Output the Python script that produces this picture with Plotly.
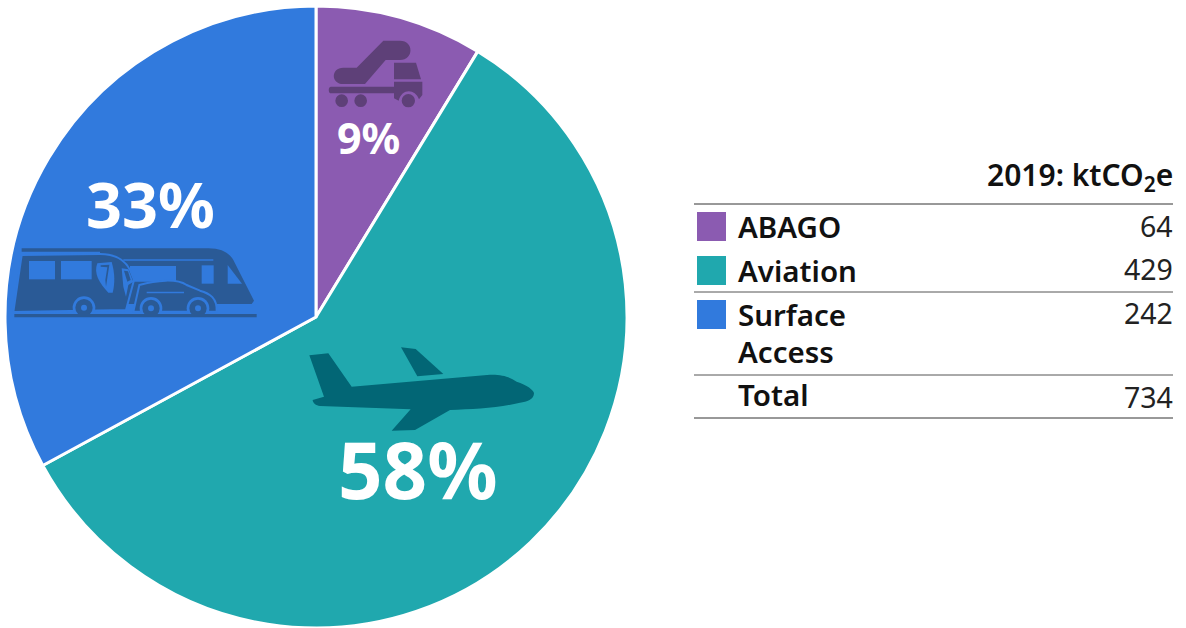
import re
import plotly.graph_objects as go

W, H = 1186, 628
FONT = "Noto Sans"

categories = ["ABAGO", "Aviation", "Surface Access"]
values = [64, 429, 242]
percents = ["9%", "58%", "33%"]
colors = ["#8B5BB1", "#20A8AE", "#317ADD"]
table_labels = ["ABAGO", "Aviation", "Surface", "Access", "Total"]
table_values = ["64", "429", "242", "734"]
table_header = "2019: ktCO<sub>2</sub>e"


def fx(x):
    return x / W


def fy(y):
    return 1 - y / H


def zoompath(d, ox, oy, s=3.0):
    """Convert an icon outline drawn in zoomed px into paper coordinates."""
    toks = re.findall(r"[MLCQZ]|-?\d+\.?\d*", d)
    out, nums = [], []
    for t in toks:
        if t in "MLCQZ":
            out.append(t)
        else:
            nums.append(float(t))
            if len(nums) == 2:
                out.append(f"{fx(ox + nums[0] / s):.5f},{fy(oy + nums[1] / s):.5f}")
                nums = []
    return " ".join(out)


shapes = []


def add_path(d, ox, oy, fill, line=None, lw=0):
    shapes.append(dict(type="path", xref="paper", yref="paper",
                       path=zoompath(d, ox, oy), fillcolor=fill,
                       line=dict(color=line or fill, width=lw)))


def add_circle(cx, cy, r, ox, oy, fill):
    shapes.append(dict(type="circle", xref="paper", yref="paper",
                       x0=fx(ox + (cx - r) / 3), x1=fx(ox + (cx + r) / 3),
                       y0=fy(oy + (cy + r) / 3), y1=fy(oy + (cy - r) / 3),
                       fillcolor=fill, line=dict(width=0)))


def add_rect(x0, y0, x1, y1, ox, oy, fill):
    add_path(f"M{x0},{y0} L{x1},{y0} L{x1},{y1} L{x0},{y1} Z", ox, oy, fill)


# plane icon
PLANE = "#026675"
add_path("M28,46 L85,40 L155,140 L570,104 C610,103 630,112 650,125 C680,135 702,150 702,160 "
         "C702,178 680,186 660,188 C600,203 520,208 450,210 L345,270 L275,272 L332,208 "
         "L60,198 C48,197 38,188 38,180 L72,170 Z", 300, 340, PLANE)
add_path("M303,22 L347,27 L430,102 L352,109 Z", 300, 340, PLANE)

# ground-service vehicle icon
PUR = "#5E4078"
add_path("M70,113 L110,113 L190,32 L240,32 C282,32 282,90 240,90 L197,90 L135,162 L70,162 "
         "C32,162 32,113 70,113 Z", 320, 30, PUR)
add_path("M33,170 L222,170 L222,190 L33,190 C24,190 24,170 33,170 Z", 320, 30, PUR)
add_path("M222,98 L288,98 L303,148 L222,148 Z", 320, 30, PUR)
add_path("M222,155 L307,155 L307,195 L297,208 C285,175 245,175 236,212 L222,205 Z", 320, 30, PUR)
add_circle(65, 212, 19, 320, 30, PUR)
add_circle(122, 212, 19, 320, 30, PUR)
add_circle(265, 212, 20, 320, 30, PUR)

# surface access icon
DK = "#2A5A96"
BL = colors[2]
ox, oy = 0, 230
add_path("M65,55 L625,55 C665,55 688,70 700,90 L762,212 L755,222 L300,222 L300,65 L65,65 Z", ox, oy, DK)
add_path("M370,88 L640,88 L640,92 L370,92 Z", ox, oy, BL)
add_rect(390, 108, 528, 155, ox, oy, BL)
add_rect(605, 106, 641, 161, ox, oy, BL)
add_path("M683,105 L726,161 L683,161 Z", ox, oy, BL)
add_path("M65,75 L300,72 C345,72 375,90 390,120 L402,150 L378,240 L40,246 Z", ox, oy, DK, BL, 2)
add_rect(87, 93, 165, 148, ox, oy, BL)
add_rect(183, 93, 275, 148, ox, oy, BL)
add_path("M292,100 L335,96 C345,130 345,160 338,188 L325,188 C298,160 280,130 292,100 Z", ox, oy, BL)
add_path("M302,106 L328,104 L318,170 L316,150 L322,112 L302,110 Z", ox, oy, DK)
add_path("M365,115 L385,118 L400,155 L385,165 L378,200 L370,170 Z", ox, oy, BL)
add_path("M372,122 L384,124 L392,150 L382,155 Z", ox, oy, DK)
add_path("M418,165 C470,150 530,145 560,165 L600,182 C630,190 652,205 650,245 L400,245 Z", ox, oy, DK, BL, 2)
add_path("M440,185 L552,185 L552,190 L440,190 Z", ox, oy, BL)
for cx, cy in [(252, 233), (453, 235), (594, 235)]:
    add_circle(cx, cy, 34, ox, oy, BL)
    add_circle(cx, cy, 26, ox, oy, DK)
    add_circle(cx, cy, 9, ox, oy, BL)
add_path("M43,252 L770,252 L770,262 L43,262 Z", ox, oy, DK)

# table rules
for y, col in [(204, "#333333"), (292, "#555555"), (375, "#555555"), (418, "#333333")]:
    shapes.append(dict(type="line", xref="paper", yref="paper", x0=fx(694), x1=fx(1173),
                       y0=fy(y), y1=fy(y), line=dict(color=col, width=1)))

# legend swatches
for y, c in zip([212, 256, 300], colors):
    shapes.append(dict(type="rect", xref="paper", yref="paper", x0=fx(697), x1=fx(726),
                       y0=fy(y + 29), y1=fy(y), fillcolor=c, line=dict(width=0)))

annotations = []


def text(x, y, s, size, anchor="left", color="#111111", weight=400):
    annotations.append(dict(xref="paper", yref="paper", x=fx(x), y=fy(y), text=s, showarrow=False,
                            xanchor=anchor, yanchor="middle", align=anchor,
                            font=dict(family=FONT, size=size, color=color, weight=weight)))


text(368, 137, percents[0], 43, "center", "white", 700)
text(418, 469, percents[1], 78, "center", "white", 700)
text(150, 204, percents[2], 63, "center", "white", 700)

text(1175, 176, table_header, 30, "right", "#111111", 600)
for (y, lbl) in zip([226, 270, 314, 351, 394], table_labels):
    text(736, y, lbl, 29.5, "left", "#111111", 600)
for (y, val) in zip([226, 269, 313, 397], table_values):
    text(1175, y, val, 28.5, "right", "#222222", 400)

fig = go.Figure(go.Pie(
    labels=categories, values=values, sort=False, direction="clockwise", rotation=0,
    textinfo="none", hoverinfo="label+value", showlegend=False,
    marker=dict(colors=colors, line=dict(color="white", width=3)),
    domain=dict(x=[fx(5), fx(627)], y=[0, fy(6)]),
))
fig.update_layout(width=W, height=H, margin=dict(l=0, r=0, t=0, b=0), autosize=False,
                  paper_bgcolor="white", plot_bgcolor="white", showlegend=False,
                  shapes=shapes, annotations=annotations)
fig.write_html("out.html", config=dict(displayModeBar=False),
               post_script="document.body.style.margin='0';")
